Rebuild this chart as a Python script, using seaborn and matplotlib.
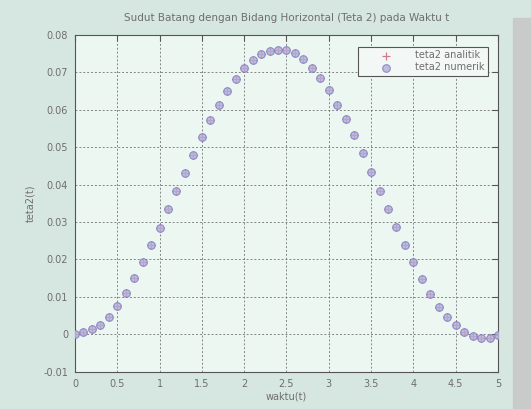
import numpy as np
import pandas as pd
import matplotlib
matplotlib.use("Agg")
import matplotlib.pyplot as plt
import seaborn as sns

# ---- data ----
waktu = [0.0, 0.1, 0.2, 0.3, 0.4, 0.5, 0.6, 0.7, 0.8, 0.9,
         1.0, 1.1, 1.2, 1.3, 1.4, 1.5, 1.6, 1.7, 1.8, 1.9,
         2.0, 2.1, 2.2, 2.3, 2.4, 2.5, 2.6, 2.7, 2.8, 2.9,
         3.0, 3.1, 3.2, 3.3, 3.4, 3.5, 3.6, 3.7, 3.8, 3.9,
         4.0, 4.1, 4.2, 4.3, 4.4, 4.5, 4.6, 4.7, 4.8, 4.9, 5.0]
teta2_analitik = [0.0000, 0.0005, 0.0013, 0.0026, 0.0046, 0.0076, 0.0111, 0.0151, 0.0194, 0.0238,
                  0.0284, 0.0335, 0.0382, 0.0431, 0.0480, 0.0527, 0.0572, 0.0612, 0.0650, 0.0683,
                  0.0711, 0.0733, 0.0750, 0.0758, 0.0761, 0.0760, 0.0751, 0.0736, 0.0712, 0.0686,
                  0.0654, 0.0614, 0.0576, 0.0533, 0.0484, 0.0434, 0.0384, 0.0334, 0.0288, 0.0239,
                  0.0194, 0.0149, 0.0109, 0.0074, 0.0046, 0.0024, 0.0006, -0.0005, -0.0010, -0.0010, -0.0003]
teta2_numerik = [0.0000, 0.0005, 0.0013, 0.0026, 0.0046, 0.0076, 0.0111, 0.0151, 0.0194, 0.0238,
                 0.0284, 0.0335, 0.0382, 0.0431, 0.0480, 0.0527, 0.0572, 0.0612, 0.0650, 0.0683,
                 0.0711, 0.0733, 0.0750, 0.0758, 0.0761, 0.0760, 0.0751, 0.0736, 0.0712, 0.0686,
                 0.0654, 0.0614, 0.0576, 0.0533, 0.0484, 0.0434, 0.0384, 0.0334, 0.0288, 0.0239,
                 0.0194, 0.0149, 0.0109, 0.0074, 0.0046, 0.0024, 0.0006, -0.0005, -0.0010, -0.0010, -0.0003]
x_ticks = [0, 0.5, 1, 1.5, 2, 2.5, 3, 3.5, 4, 4.5, 5]
x_ticklabels = ["0", "0.5", "1", "1.5", "2", "2.5", "3", "3.5", "4", "4.5", "5"]
y_ticks = [-0.01, 0, 0.01, 0.02, 0.03, 0.04, 0.05, 0.06, 0.07, 0.08]
y_ticklabels = ["-0.01", "0", "0.01", "0.02", "0.03", "0.04", "0.05", "0.06", "0.07", "0.08"]
title = "Sudut Batang dengan Bidang Horizontal (Teta 2) pada Waktu t"

df = pd.DataFrame({"waktu": waktu, "analitik": teta2_analitik, "numerik": teta2_numerik})

sns.set_style("white")
plt.rcParams["font.family"] = ["DejaVu Sans"]

fig = plt.figure(figsize=(5.31, 4.09), dpi=100)
fig.patch.set_facecolor("#d6e6e1")
# gray strip on the right edge of the scanned page
fig.add_artist(plt.Rectangle((0.966, 0), 0.034, 0.955, transform=fig.transFigure,
                             color="#c9cbca", zorder=0))
ax = fig.add_axes([0.1412, 0.0912, 0.7966, 0.8232])
ax.set_facecolor("#ecf7f2")

txt = "#6e6e6e"

sns.scatterplot(data=df, x="waktu", y="analitik", ax=ax, marker="+", s=26,
                color="#d07a90", linewidth=0.9, label="teta2 analitik", zorder=3)
sns.scatterplot(data=df, x="waktu", y="numerik", ax=ax, marker="o", s=30,
                facecolor="#b3afd8", edgecolor="#7d78bd", linewidth=0.8,
                alpha=0.8, label="teta2 numerik", zorder=4)

ax.set_xlim(0, 5)
ax.set_ylim(-0.01, 0.08)
ax.set_xticks(x_ticks)
ax.set_xticklabels(x_ticklabels)
ax.set_yticks(y_ticks)
ax.set_yticklabels(y_ticklabels)
ax.tick_params(direction="in", length=4, width=0.8, colors="#555555",
               labelcolor=txt, labelsize=7, top=True, right=True, pad=5)
ax.grid(True, linestyle=(0, (2, 2)), color="#606060", linewidth=0.7, alpha=0.75)
for sp in ax.spines.values():
    sp.set_color("#555555")
    sp.set_linewidth(0.8)

ax.set_title(title, fontsize=7.5, color=txt, pad=10)
ax.set_xlabel("waktu(t)", fontsize=7, color=txt, labelpad=2)
ax.set_ylabel("teta2(t)", fontsize=7, color=txt, labelpad=6)

leg = ax.legend(loc="upper right", fontsize=7, frameon=True, fancybox=False,
                edgecolor="#555555", facecolor="#f3f8f6", framealpha=1,
                borderpad=0.4, handlelength=5.0, handletextpad=0.4, labelspacing=0.2,
                bbox_to_anchor=(0.988, 0.98))
leg.get_frame().set_linewidth(0.8)
for t in leg.get_texts():
    t.set_color(txt)

fig.savefig("out.png", dpi=100, facecolor=fig.get_facecolor())
